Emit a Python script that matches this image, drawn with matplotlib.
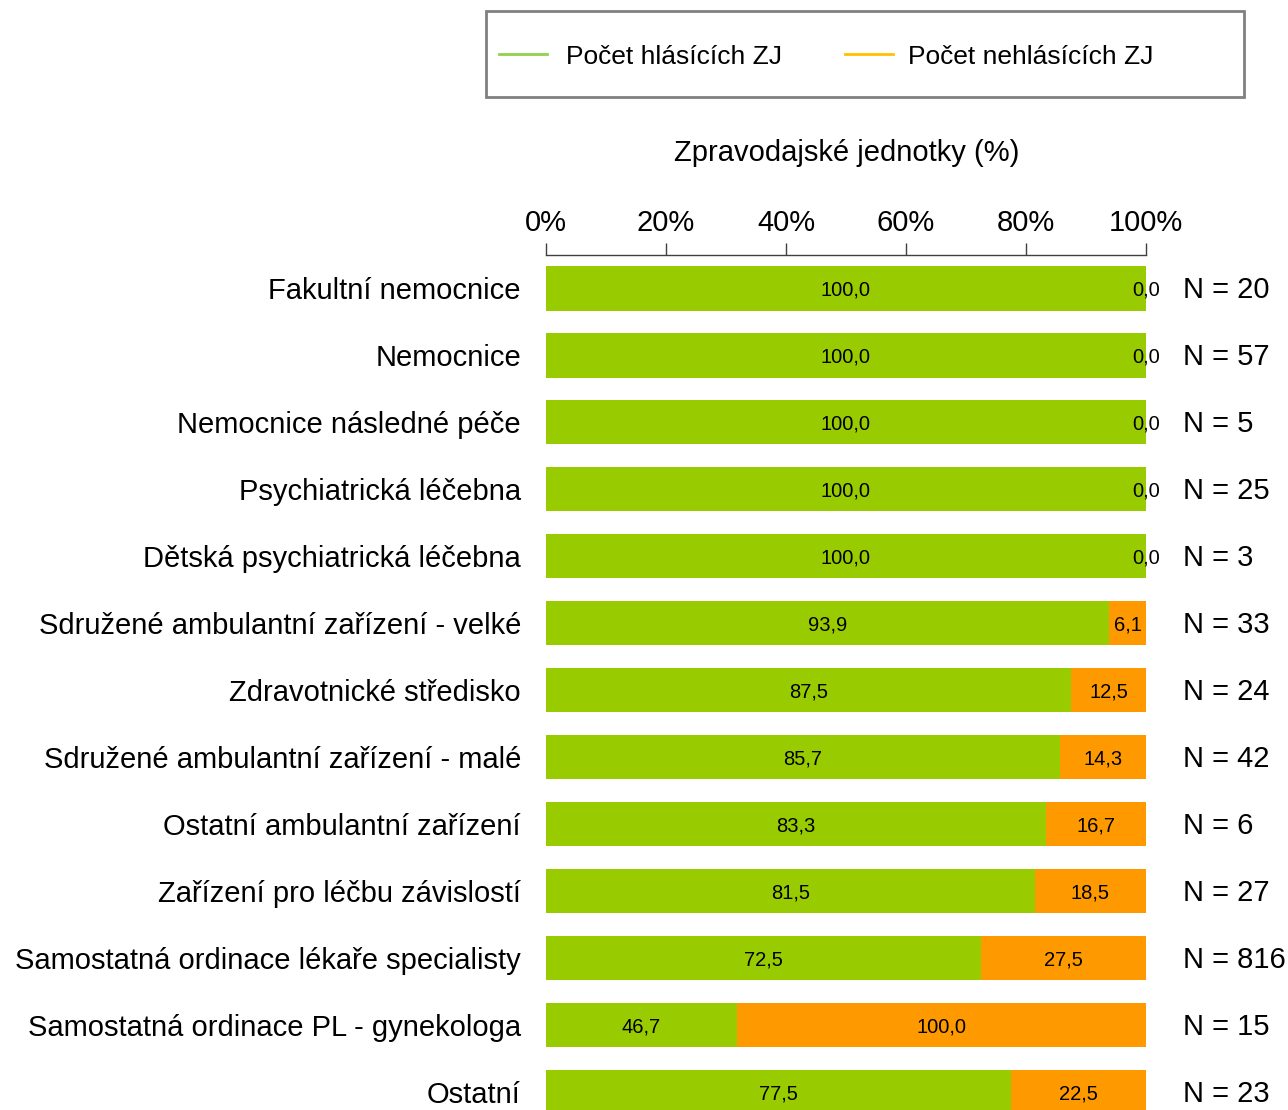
import matplotlib
matplotlib.use("Agg")
import matplotlib.pyplot as plt
from matplotlib.lines import Line2D
from matplotlib.patches import Rectangle

plt.rcParams['font.family'] = ['Liberation Sans', 'DejaVu Sans']

categories = [
    "Fakultní nemocnice",
    "Nemocnice",
    "Nemocnice následné péče",
    "Psychiatrická léčebna",
    "Dětská psychiatrická léčebna",
    "Sdružené ambulantní zařízení - velké",
    "Zdravotnické středisko",
    "Sdružené ambulantní zařízení - malé",
    "Ostatní ambulantní zařízení",
    "Zařízení pro léčbu závislostí",
    "Samostatná ordinace lékaře specialisty",
    "Samostatná ordinace PL - gynekologa",
    "Ostatní",
]
reporting = [100.0, 100.0, 100.0, 100.0, 100.0, 93.9, 87.5, 85.7, 83.3, 81.5, 72.5, 46.7, 77.5]
not_reporting = [0.0, 0.0, 0.0, 0.0, 0.0, 6.1, 12.5, 14.3, 16.7, 18.5, 27.5, 100.0, 22.5]
n_values = [20, 57, 5, 25, 3, 33, 24, 42, 6, 27, 816, 15, 23]
xticks = [0, 20, 40, 60, 80, 100]
xtick_labels = ["0%", "20%", "40%", "60%", "80%", "100%"]
legend_labels = ["Počet hlásících ZJ", "Počet nehlásících ZJ"]
axis_title = "Zpravodajské jednotky (%)"

# 100% stacked: normalise each row
totals = [a + b for a, b in zip(reporting, not_reporting)]
rep_share = [a / t * 100 for a, t in zip(reporting, totals)]
not_share = [b / t * 100 for b, t in zip(not_reporting, totals)]

def fmt(v):
    return f"{v:.1f}".replace(".", ",")

W, H = 1288, 1110
fig = plt.figure(figsize=(W / 100, H / 100), dpi=100)
ax = fig.add_axes([546 / W, 0, 600 / W, (H - 255) / H])

GREEN = "#99CC00"
ORANGE = "#FF9900"
FS = 21
y = list(range(len(categories)))
ax.barh(y, rep_share, height=0.66, color=GREEN, edgecolor="none")
ax.barh(y, not_share, left=rep_share, height=0.66, color=ORANGE, edgecolor="none")

for i in y:
    ax.text(rep_share[i] / 2, i + 0.03, fmt(reporting[i]), ha="center", va="center", fontsize=14.5)
    ax.text(rep_share[i] + not_share[i] / 2, i + 0.03, fmt(not_reporting[i]),
            ha="center", va="center", fontsize=14.5)
    ax.text(106.2, i + 0.03, f"N = {n_values[i]}", ha="left", va="center", fontsize=FS, clip_on=False)

ax.set_xlim(0, 100)
ax.set_ylim(12.27, -0.5)
ax.set_yticks(y)
ax.set_yticklabels(categories, fontsize=FS)
ax.tick_params(axis="y", length=0, pad=18)
ax.xaxis.tick_top()
ax.set_xticks(xticks)
ax.set_xticklabels(xtick_labels, fontsize=FS)
ax.tick_params(axis="x", length=9, width=1, color="#404040", pad=4)
for s in ["left", "right", "bottom"]:
    ax.spines[s].set_visible(False)
ax.spines["top"].set_color("#404040")
ax.spines["top"].set_linewidth(1)

fig.text(847 / W, 1 - 153 / H, axis_title, ha="center", va="center", fontsize=FS)

# legend drawn manually in figure pixel coordinates
def fx(px):
    return px / W

def fy(py):
    return 1 - py / H

fig.add_artist(Rectangle((fx(486), fy(97)), fx(1244) - fx(486), fy(11) - fy(97),
                         transform=fig.transFigure, fill=False, edgecolor="#808080", linewidth=2))
fig.add_artist(Line2D([fx(499), fx(547)], [fy(54), fy(54)], transform=fig.transFigure,
                      color="#92D050", linewidth=2))
fig.add_artist(Line2D([fx(845), fx(893)], [fy(54), fy(54)], transform=fig.transFigure,
                      color="#FFC000", linewidth=2))
fig.text(fx(566), fy(57), legend_labels[0], ha="left", va="center", fontsize=19)
fig.text(fx(908), fy(57), legend_labels[1], ha="left", va="center", fontsize=19)

fig.savefig("out.png", dpi=100)
